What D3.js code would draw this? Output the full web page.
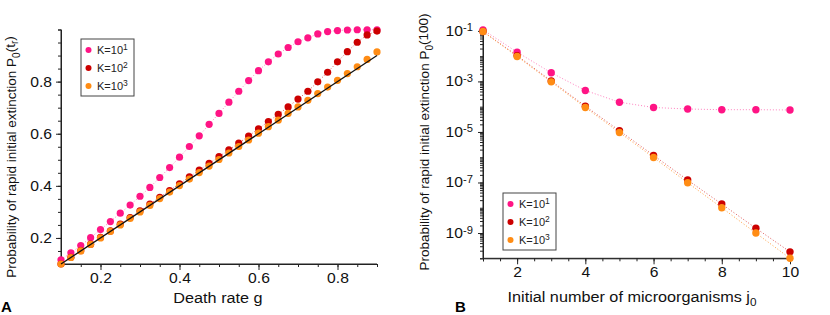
<!DOCTYPE html>
<html>
<head>
<meta charset="utf-8">
<script src="https://cdn.jsdelivr.net/npm/d3@7"></script>
<style>
body { margin: 0; background: #fff; }
svg { display: block; font-family: "Liberation Sans", Arial, sans-serif; }
.axis path, .axis line { stroke: #222; }
.axis text { font-size: 14px; fill: #111; font-family: "Liberation Sans", Arial, sans-serif; }
</style>
</head>
<body>
<div id="chart"></div>
<script>
// panel A: death rate g vs P0(tr)
const gValues = [0.1, 0.125, 0.15, 0.175, 0.2, 0.225, 0.25, 0.275, 0.3, 0.325, 0.35, 0.375, 0.4, 0.425, 0.45, 0.475,
  0.5, 0.525, 0.55, 0.575, 0.6, 0.625, 0.65, 0.675, 0.7, 0.725, 0.75, 0.775, 0.8, 0.825, 0.85, 0.875, 0.9]
const probA_K10 = [0.116, 0.143, 0.171, 0.201, 0.232, 0.263, 0.295, 0.326, 0.360, 0.394, 0.432, 0.470, 0.510, 0.551, 0.592, 0.636,
  0.678, 0.721, 0.763, 0.804, 0.842, 0.876, 0.906, 0.931, 0.953, 0.968, 0.983, 0.992, 0.996, 0.998, 0.999, 0.999, 0.999]
const probA_K100 = [0.100, 0.126, 0.151, 0.176, 0.202, 0.227, 0.253, 0.278, 0.304, 0.330, 0.356, 0.382, 0.408, 0.434, 0.460, 0.486,
  0.512, 0.538, 0.564, 0.591, 0.619, 0.647, 0.674, 0.703, 0.733, 0.763, 0.799, 0.836, 0.876, 0.915, 0.951, 0.979, 0.994]
const probA_K1000 = [0.100, 0.125, 0.150, 0.175, 0.200, 0.225, 0.250, 0.275, 0.300, 0.325, 0.351, 0.376, 0.401, 0.426, 0.451, 0.476,
  0.501, 0.526, 0.551, 0.576, 0.602, 0.627, 0.652, 0.678, 0.703, 0.728, 0.754, 0.779, 0.805, 0.831, 0.857, 0.885, 0.914]
const theoryG = [0.1, 0.9]
const theoryP = [0.1, 0.9]
const ticksA_x = [0.2, 0.4, 0.6, 0.8]
const ticksA_y = [0.2, 0.4, 0.6, 0.8]

// panel B: initial number j0 vs P0(100)
const j0Values = [1, 2, 3, 4, 5, 6, 7, 8, 9, 10]
const probB_K10 = [0.11, 0.0144, 0.0022, 4.4e-4, 1.5e-4, 9.3e-5, 8.1e-5, 7.6e-5, 7.6e-5, 7.4e-5]
const probB_K100 = [0.094, 0.0105, 1.05e-3, 1.05e-4, 1.12e-5, 1.18e-6, 1.25e-7, 1.4e-8, 1.55e-9, 1.8e-10]
const probB_K1000 = [0.094, 0.0097, 9.6e-4, 9.3e-5, 9.5e-6, 9.8e-7, 9.8e-8, 1.0e-8, 1.0e-9, 1.0e-10]
const ticksB_x = [2, 4, 6, 8, 10]
const ticksB_yExp = [-1, -3, -5, -7, -9]

const legendLabels = [['K=10', '1'], ['K=10', '2'], ['K=10', '3']]
const colors = ['#ff1485', '#cc0000', '#ff8c14']
const lineColors = ['#ff80bf', '#e05858', '#ffa040']

let width = 830, height = 315
const stretch = 'scale(1.12,1)'

let svg = d3.select('#chart').append('svg')
.attr('width', width)
.attr('height', height)

// ---------- panel A ----------
let xA = d3.scaleLinear().domain([0.1, 0.9]).range([61, 377])
let yA = d3.scaleLinear().domain([0.1, 1.0]).range([264, 29.5])

let minorA = d3.range(0.1, 1.0001, 0.05)

svg.append('g').attr('class', 'axis')
.attr('transform', 'translate(0,264)')
.call(d3.axisBottom(xA).tickValues(minorA.filter(v => v <= 0.9001)).tickSize(3).tickFormat(''))
svg.append('g').attr('class', 'axis')
.attr('transform', 'translate(0,264)')
.call(d3.axisBottom(xA).tickValues(ticksA_x).tickSize(6).tickPadding(3).tickFormat(d3.format('.1f')))
.call(g => g.select('.domain').attr('d', 'M61,0H377'))
.selectAll('.tick text').attr('transform', stretch)

svg.append('g').attr('class', 'axis')
.attr('transform', 'translate(61,0)')
.call(d3.axisLeft(yA).tickValues(minorA).tickSize(3).tickFormat(''))
svg.append('g').attr('class', 'axis')
.attr('transform', 'translate(61,0)')
.call(d3.axisLeft(yA).tickValues(ticksA_y).tickSize(5).tickPadding(3).tickFormat(d3.format('.1f')))
.call(g => g.select('.domain').attr('d', 'M0,264V29.5'))
.selectAll('.tick text').attr('transform', stretch)

const seriesA = [probA_K10, probA_K100, probA_K1000]
let plotA = svg.append('g')

seriesA.forEach((vals, i) => {
  let pts = gValues.map((g, k) => [g, vals[k]])
  if (i < 2) {
    plotA.append('path')
    .datum(pts)
    .attr('d', d3.line().x(d => xA(d[0])).y(d => yA(d[1])))
    .style('fill', 'none')
    .style('stroke', lineColors[i])
    .style('stroke-width', 1)
    .style('stroke-dasharray', '1,2')
  }
  plotA.append('g').selectAll('circle')
  .data(pts)
  .enter()
  .append('circle')
  .attr('cx', d => xA(d[0]))
  .attr('cy', d => yA(d[1]))
  .attr('r', 3.6)
  .style('fill', colors[i])
})

plotA.append('path')
.datum(theoryG.map((g, k) => [g, theoryP[k]]))
.attr('d', d3.line().x(d => xA(d[0])).y(d => yA(d[1])))
.style('fill', 'none')
.style('stroke', '#111')
.style('stroke-width', 1.3)

// ---------- panel B ----------
let xB = d3.scaleLinear().domain([1, 10]).range([483, 790])
let yB = d3.scaleLog().domain([1e-10, 0.13]).range([258.3, 28])

svg.append('g').attr('class', 'axis')
.attr('transform', 'translate(0,258.3)')
.call(d3.axisBottom(xB).tickValues(d3.range(1, 10.01, 0.5)).tickSize(3).tickFormat(''))
svg.append('g').attr('class', 'axis')
.attr('transform', 'translate(0,258.3)')
.call(d3.axisBottom(xB).tickValues(ticksB_x).tickSize(6).tickPadding(3).tickFormat(d3.format('d')))
.call(g => g.select('.domain').attr('d', 'M483,0H790'))
.selectAll('.tick text').attr('transform', stretch)

let minorB = []
for (let e = -10; e <= -1; e++) {
  for (let m = 1; m <= 9; m++) {
    let v = m * Math.pow(10, e)
    if (v <= 0.13) minorB.push(v)
  }
}
svg.append('g').attr('class', 'axis')
.attr('transform', 'translate(483,0)')
.call(d3.axisLeft(yB).tickValues(minorB).tickSize(3).tickFormat(''))
let yAxisB = svg.append('g').attr('class', 'axis')
.attr('transform', 'translate(483,0)')
.call(d3.axisLeft(yB).tickValues(ticksB_yExp.map(e => Math.pow(10, e))).tickSize(5).tickPadding(4).tickFormat(''))
yAxisB.select('.domain').attr('d', 'M0,258.3V28')
yAxisB.selectAll('.tick text')
.attr('transform', stretch)
.each(function(d) {
  let t = d3.select(this)
  t.append('tspan').text('10')
  t.append('tspan').text(Math.round(Math.log10(d)))
  .attr('dy', '-0.45em')
  .style('font-size', '10px')
})

const seriesB = [probB_K10, probB_K100, probB_K1000]
let plotB = svg.append('g')

seriesB.forEach((vals, i) => {
  let pts = j0Values.map((j, k) => [j, vals[k]])
  plotB.append('path')
  .datum(pts)
  .attr('d', d3.line().x(d => xB(d[0])).y(d => yB(d[1])))
  .style('fill', 'none')
  .style('stroke', lineColors[i])
  .style('stroke-width', 1)
  .style('stroke-dasharray', '1,2')
})
seriesB.forEach((vals, i) => {
  plotB.append('g').selectAll('circle')
  .data(j0Values.map((j, k) => [j, vals[k]]))
  .enter()
  .append('circle')
  .attr('cx', d => xB(d[0]))
  .attr('cy', d => yB(d[1]))
  .attr('r', 3.7)
  .style('fill', colors[i])
})

// ---------- legends ----------
function drawLegend(x0, y0) {
  let g = svg.append('g').attr('transform', `translate(${x0},${y0})`)
  g.append('rect')
  .attr('width', 53).attr('height', 57)
  .style('fill', '#fff')
  .style('stroke', '#444')
  .style('stroke-width', 1)
  legendLabels.forEach((lab, i) => {
    let yy = 11 + i * 18
    g.append('circle').attr('cx', 7.5).attr('cy', yy).attr('r', 3).style('fill', colors[i])
    let t = g.append('text').attr('x', 16).attr('y', yy + 4)
    .style('font-size', '11px').style('fill', '#222')
    t.append('tspan').text(lab[0])
    t.append('tspan').text(lab[1]).attr('dy', '-0.45em').style('font-size', '8.5px')
  })
}
drawLegend(81, 39)
drawLegend(503, 193)

// ---------- labels ----------
function yLabel(x, y, sub2, tail) {
  let t = svg.append('text')
  .attr('transform', `translate(${x},${y}) rotate(-90)`)
  .attr('text-anchor', 'middle')
  .style('font-size', '13.5px').style('fill', '#111')
  t.append('tspan').text('Probability of rapid initial extinction P')
  t.append('tspan').text('0').attr('dy', '0.35em').style('font-size', '10px')
  if (sub2) {
    t.append('tspan').text('(t').attr('dy', '-0.35em')
    t.append('tspan').text(sub2).attr('dy', '0.35em').style('font-size', '10px')
    t.append('tspan').text(')').attr('dy', '-0.35em')
  } else {
    t.append('tspan').text(tail).attr('dy', '-0.35em')
  }
}
yLabel(16, 157, 'r')
yLabel(429, 142, null, '(100)')

svg.append('text').attr('transform', `translate(218,303) ${stretch}`)
.attr('text-anchor', 'middle').style('font-size', '14.5px').style('fill', '#111')
.text('Death rate g')

let xbl = svg.append('text').attr('transform', `translate(632,302) ${stretch}`)
.attr('text-anchor', 'middle').style('font-size', '14.5px').style('fill', '#111')
xbl.append('tspan').text('Initial number of microorganisms j')
xbl.append('tspan').text('0').attr('dy', '0.35em').style('font-size', '10.5px')

svg.append('text').attr('x', 1).attr('y', 312).style('font-size', '15px').style('font-weight', 'bold').text('A')
svg.append('text').attr('x', 455).attr('y', 312).style('font-size', '15px').style('font-weight', 'bold').text('B')
</script>
</body>
</html>
